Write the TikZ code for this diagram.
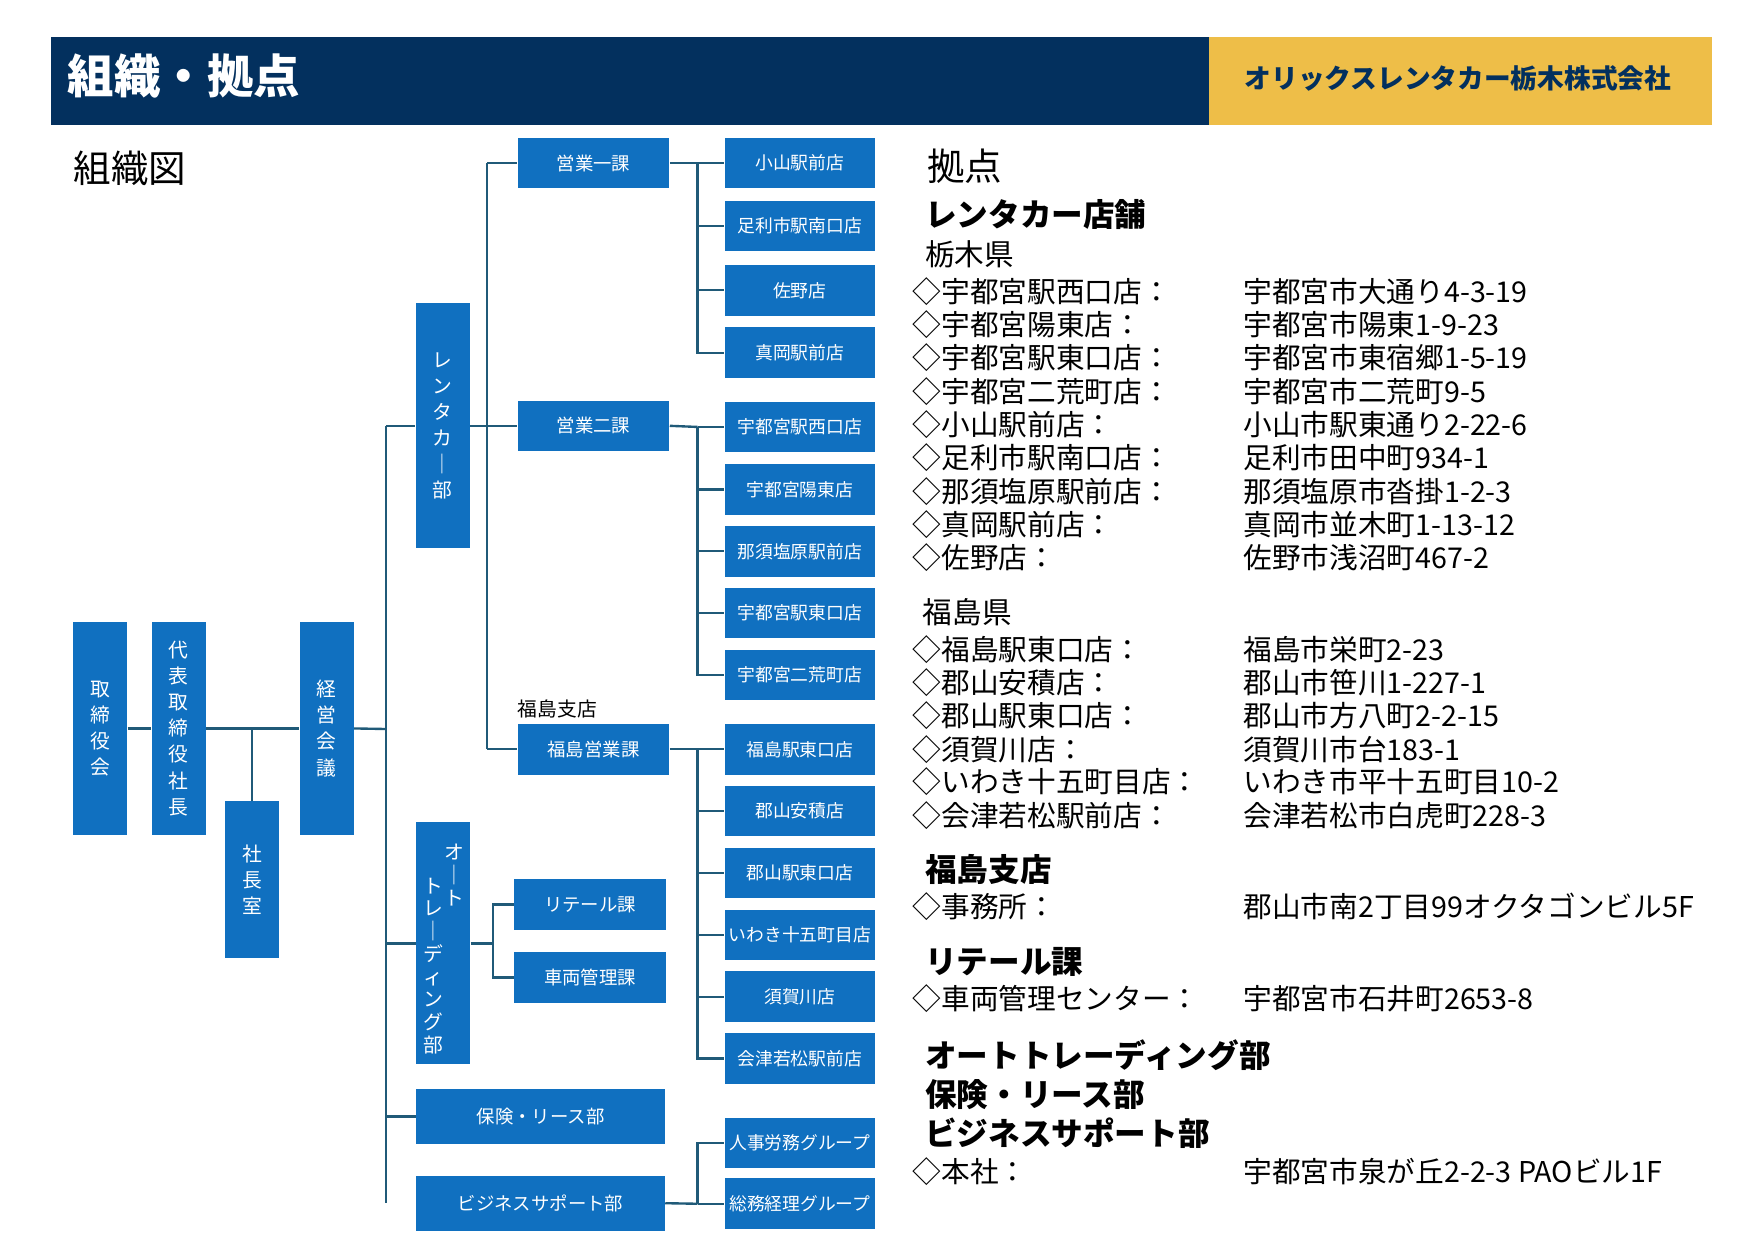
\documentclass[tikz,border=0pt]{standalone}
\usepackage{fontspec}
\setmainfont{Noto Sans CJK JP}
\usetikzlibrary{positioning}
\definecolor{orgblue}{RGB}{16,112,192}
\definecolor{navy}{RGB}{3,48,94}
\definecolor{gold}{RGB}{238,190,72}
\definecolor{linec}{RGB}{32,90,120}
\newcommand{\fsz}[1]{\fontsize{#1}{#1}\selectfont}
\newcommand{\vsz}{\fontsize{10pt}{13.2pt}\selectfont}
\begin{document}
\begin{tikzpicture}[
        x = 0.02cm, y = -0.02cm,
        conn/.style = {draw = linec, line width = 1.2pt},
        box/.style = {fill = orgblue, text = white, inner sep = 0pt,
            align = center, font = \fsz{9.3pt}},
        vbox/.style = {box, minimum width = 0.96cm, font = \vsz},
        unit/.style = {box, minimum width = 2.7cm, minimum height = 0.9cm},
        store/.style = {box, minimum width = 2.68cm, minimum height = 0.9cm, font = \fsz{9pt}},
        wide/.style = {box, minimum width = 4.42cm, minimum height = 0.98cm},
        site/.style = {anchor = west, inner sep = 0pt, font = \fsz{14.5pt}},
        head/.style = {anchor = west, inner sep = 0pt, font = \fsz{16pt}\bfseries}
    ]
    \useasboundingbox (0,0) rectangle (1560,1103);

    % title bar
    \fill[navy] (45,33) rectangle (1075,111);
    \fill[gold] (1075,33) rectangle (1522,111);
    \node (title) [anchor = west, inner sep = 0pt, text = white, font = \fsz{23.5pt}\bfseries] at (60,68) {組織・拠点};
    \node (company) [text = navy, font = \fsz{13.5pt}\bfseries] at (1296,70) {オリックスレンタカー栃木株式会社};
    \node (orgtitle) [anchor = west, inner sep = 0pt, font = \fsz{19pt}] at (65,150) {組織図};

    % top management
    \node (board) [vbox, minimum height = 3.78cm] at (89,647.5) {取\\締\\役\\会};
    \node (ceo) [vbox, minimum height = 3.78cm] at (159,647.5) {代\\表\\取\\締\\役\\社\\長};
    \node (office) [vbox, minimum height = 2.8cm] at (224,782) {社\\長\\室};
    \node (meeting) [vbox, minimum height = 3.78cm] at (290.5,647.5) {経\\営\\会\\議};

    \coordinate (t1) at (224,648);
    \coordinate (trunk) at (343,648);
    \draw[conn] (board.east) -- (ceo.west);
    \draw[conn] (ceo.east) -- (meeting.west);
    \draw[conn] (t1) -- (office.north);
    \draw[conn] (meeting.east) -- (trunk);

    % departments
    \node (rental) [vbox, minimum height = 4.36cm] at (393.5,378.5) {レ\\ン\\タ\\カ\\｜\\部};
    \node (auto) [box, minimum width = 0.96cm, minimum height = 4.3cm] at (394,838.5) {};
    \node (autoa) [align = center, text = white, inner sep = 0pt, font = \fontsize{10pt}{11.5pt}\selectfont, anchor = north] at (404,750) {オ\\｜\\ト};
    \node (autob) [align = center, text = white, inner sep = 0pt, font = \fontsize{10pt}{11.5pt}\selectfont, anchor = north] at (385,780) {ト\\レ\\｜\\デ\\ィ\\ン\\グ\\部};
    \node (insure) [wide] at (480.5,992.5) {保険・リース部};
    \node (support) [wide] at (480.5,1069.5) {ビジネスサポート部};

    \coordinate (tt) at (343,378.5);
    \coordinate (tb) at (343,1069.5);
    \draw[conn] (tt) -- (tb);
    \draw[conn] (tt) -- (rental.west);
    \draw[conn] (343,838.5) -- (auto.west);
    \draw[conn] (343,992.5) -- (insure.west);

    % sections
    \node (sales1) [unit] at (527.5,145) {営業一課};
    \node (sales2) [unit] at (527.5,378.5) {営業二課};
    \node (fsales) [unit] at (527.5,666) {福島営業課};
    \node (fbranch) [anchor = south west, inner sep = 0pt, font = \fsz{10pt}] at (460,639) {福島支店};
    \node (retail) [unit] at (524.5,804) {リテール課};
    \node (vehicle) [unit] at (524.5,869) {車両管理課};

    \coordinate (rj) at (433,378.5);
    \draw[conn] (rental.east) -- (rj);
    \draw[conn] (433,145) -- (433,666);
    \foreach \n in {sales1, sales2, fsales} \draw[conn] (433,0 |- \n.west) -- (\n.west);
    \coordinate (aj) at (438,838.5);
    \draw[conn] (auto.east) -- (aj);
    \foreach \n in {retail, vehicle} \draw[conn] (aj) |- (\n.west);

    % stores
    \foreach \n/\y/\t in {s1/145/小山駅前店, s2/201/足利市駅南口店, s3/258/佐野店, s4/313.5/真岡駅前店,
            s5/379.5/宇都宮駅西口店, s6/435/宇都宮陽東店, s7/490/那須塩原駅前店, s8/545/宇都宮駅東口店, s9/600/宇都宮二荒町店,
            s10/666/福島駅東口店, s11/721/郡山安積店, s12/776/郡山駅東口店, s13/831/いわき十五町目店, s14/886/須賀川店, s15/941/会津若松駅前店,
            g1/1016/人事労務グループ, g2/1070/総務経理グループ}
        \node (\n) [store] at (711,\y) {\t};

    \coordinate (j1) at (620,145);
    \coordinate (j2) at (620,379.5);
    \coordinate (j3) at (620,666);
    \coordinate (j4) at (620,1070);
    \draw[conn] (sales1.east) -- (j1);
    \draw[conn] (sales2.east) -- (j2);
    \draw[conn] (fsales.east) -- (j3);
    \draw[conn] (support.east) -- (j4);
    \foreach \n in {s1, s2, s3, s4} \draw[conn] (j1) |- (\n.west);
    \foreach \n in {s5, s6, s7, s8, s9} \draw[conn] (j2) |- (\n.west);
    \foreach \n in {s10, s11, s12, s13, s14, s15} \draw[conn] (j3) |- (\n.west);
    \foreach \n in {g1, g2} \draw[conn] (j4) |- (\n.west);

    % sites
    \node (sitetitle) [anchor = west, inner sep = 0pt, font = \fsz{19pt}] at (824,148) {拠点};
    \node (h1) [head] at (822,191) {レンタカー店舗};
    \node (p1) [site, font = \fsz{15pt}] at (822,226) {栃木県};
    \node (p2) [site, font = \fsz{15pt}] at (820,544) {福島県};
    \node (h2) [head] at (822,773) {福島支店};
    \node (h3) [head] at (822,855) {リテール課};
    \node (h4) [head] at (822,938) {オートトレーディング部};
    \node (h5) [head] at (822,973) {保険・リース部};
    \node (h6) [head] at (822,1007) {ビジネスサポート部};
    \foreach \y/\a/\b in {259/宇都宮駅西口店/宇都宮市大通り4-3-19, 288.5/宇都宮陽東店/宇都宮市陽東1-9-23,
            318/宇都宮駅東口店/宇都宮市東宿郷1-5-19, 348/宇都宮二荒町店/宇都宮市二荒町9-5,
            377/小山駅前店/小山市駅東通り2-22-6, 407/足利市駅南口店/足利市田中町934-1,
            437/那須塩原駅前店/那須塩原市沓掛1-2-3, 466/真岡駅前店/真岡市並木町1-13-12,
            496/佐野店/佐野市浅沼町467-2,
            577/福島駅東口店/福島市栄町2-23, 607/郡山安積店/郡山市笹川1-227-1,
            636/郡山駅東口店/郡山市方八町2-2-15, 666/須賀川店/須賀川市台183-1,
            695/いわき十五町目店/いわき市平十五町目10-2, 725/会津若松駅前店/会津若松市白虎町228-3,
            806/事務所/郡山市南2丁目99オクタゴンビル5F, 888/車両管理センター/宇都宮市石井町2653-8,
            1041/本社/宇都宮市泉が丘2-2-3 PAOビル1F}
    {
        \node [site] at (811,\y) {◇\a：};
        \node [site] at (1105,\y) {\b};
    }
\end{tikzpicture}
\end{document}
